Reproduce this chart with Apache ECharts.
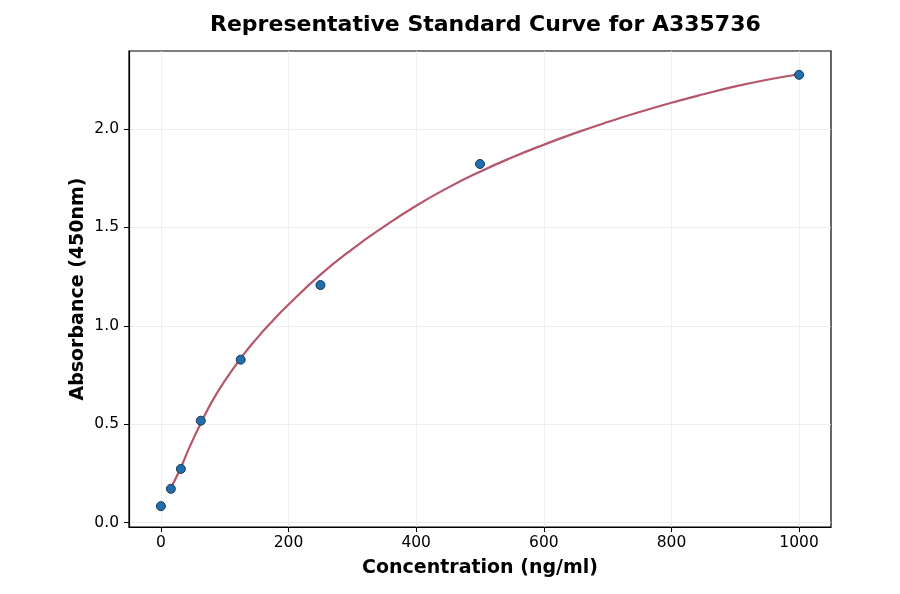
<!DOCTYPE html>
<html>
<head>
<meta charset="utf-8">
<script src="https://cdn.jsdelivr.net/npm/echarts@6/dist/echarts.min.js"></script>
<style>
  html, body { margin: 0; padding: 0; background: #fff; }
  #main { width: 900px; height: 594px; }
</style>
</head>
<body>
<div id="main"></div>
<script>
// standard points
var concX = [0, 15.6, 31.25, 62.5, 125, 250, 500, 1000];
var absY = [0.084, 0.172, 0.273, 0.518, 0.828, 1.207, 1.822, 2.275];
// fitted curve
var curveX = [15.6, 31.25, 45, 62.5, 80, 100, 125, 150, 175, 200, 250, 300, 350, 400, 450, 500, 550, 600, 650, 700, 750, 800, 850, 900, 950, 1000];
var curveY = [0.175, 0.28, 0.385, 0.505, 0.615, 0.72, 0.835, 0.935, 1.025, 1.108, 1.26, 1.39, 1.505, 1.61, 1.702, 1.783, 1.855, 1.92, 1.98, 2.035, 2.086, 2.133, 2.176, 2.216, 2.25, 2.278];
// tick labels
var xTicks = [0, 200, 400, 600, 800, 1000];
var yTicks = [0, 0.5, 1.0, 1.5, 2.0];

var pts = [];
for (var i = 0; i < concX.length; i++) {
    pts.push([concX[i], absY[i]]);
}
var fit = [];
for (var j = 0; j < curveX.length; j++) {
    fit.push([curveX[j], curveY[j]]);
}

var myChart = echarts.init(document.getElementById('main'));
myChart.setOption({
    animation: false,
    title: {
        text: 'Representative Standard Curve for A335736',
        left: 205,
        top: 9,
        textStyle: { fontFamily: 'DejaVu Sans', fontSize: 22, fontWeight: 'bold', color: '#000' }
    },
    grid: {
        left: 129, right: 69, top: 51, bottom: 67,
        show: true, borderColor: '#000', borderWidth: 1.2, backgroundColor: 'transparent'
    },
    xAxis: {
        type: 'value',
        min: -50,
        max: 1050,
        name: 'Concentration (ng/ml)',
        nameLocation: 'middle',
        nameGap: 32,
        nameMoveOverlap: false,
        nameTextStyle: { fontFamily: 'DejaVu Sans', fontSize: 19, fontWeight: 'bold', color: '#000' },
        axisLine: { show: true, onZero: false, lineStyle: { color: '#000', width: 1.2 } },
        axisTick: { show: true, length: 5, customValues: xTicks, lineStyle: { color: '#000', width: 1 } },
        axisLabel: {
            customValues: xTicks, margin: 8,
            fontFamily: 'DejaVu Sans', fontSize: 15.5, color: '#000',
            formatter: function (v) { return String(v); }
        },
        splitLine: { show: true, lineStyle: { color: '#ebebeb', width: 0.8 } }
    },
    yAxis: {
        type: 'value',
        min: -0.022,
        max: 2.396,
        name: 'Absorbance (450nm)',
        nameLocation: 'middle',
        nameGap: 41,
        nameMoveOverlap: false,
        nameTextStyle: { fontFamily: 'DejaVu Sans', fontSize: 19, fontWeight: 'bold', color: '#000' },
        axisLine: { show: true, onZero: false, lineStyle: { color: '#000', width: 1.2 } },
        axisTick: { show: true, length: 5, customValues: yTicks, lineStyle: { color: '#000', width: 1 } },
        axisLabel: {
            customValues: yTicks, margin: 10,
            fontFamily: 'DejaVu Sans', fontSize: 15.5, color: '#000',
            formatter: function (v) { return v.toFixed(1); }
        },
        splitLine: { show: true, lineStyle: { color: '#ebebeb', width: 0.8 } }
    },
    series: [
        {
            type: 'line',
            data: fit,
            smooth: 0.5,
            showSymbol: false,
            lineStyle: { color: '#b5566a', width: 2.2 },
            z: 2
        },
        {
            type: 'scatter',
            data: pts,
            symbol: 'circle',
            symbolSize: 9,
            itemStyle: { color: '#1f6fae', borderColor: '#1b3550', borderWidth: 1, opacity: 1 },
            z: 3
        }
    ]
});
</script>
</body>
</html>
